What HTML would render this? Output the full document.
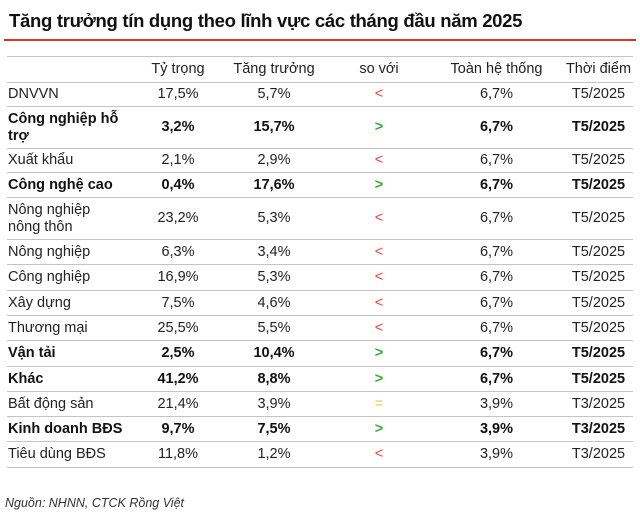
<!DOCTYPE html>
<html><head><meta charset="utf-8"><style>
body{margin:0;width:640px;height:517px;background:#fff;font-family:"Liberation Sans",sans-serif;color:#222;position:relative;overflow:hidden}
.title{position:absolute;left:9px;top:10px;font-size:18.5px;font-weight:bold;color:#111;letter-spacing:-0.3px}
.red{position:absolute;left:4px;top:39px;width:632px;height:2px;background:#e0332e}
table{position:absolute;left:7px;top:56px;width:626px;border-collapse:collapse;font-size:14.5px}
td{border-top:1.5px solid #c4c4c4;padding:0;text-align:center;line-height:17px}
tr:last-child td{border-bottom:1.5px solid #c4c4c4}
td.l{text-align:left;padding-left:1px}
tr.b td{font-weight:bold;color:#111}
td.g,tr.b td.g{color:#3aaa3a}td.r{color:#e8443a}td.y{color:#f2c23a}
.src{position:absolute;left:5px;top:496px;font-size:12.5px;font-style:italic;color:#333}
</style></head><body>
<div class="title">Tăng trưởng tín dụng theo lĩnh vực các tháng đầu năm 2025</div>
<div class="red"></div>
<table>
<colgroup><col style="width:130px"><col style="width:82px"><col style="width:110px"><col style="width:100px"><col style="width:135px"><col></colgroup>
<tr style="height:26px"><td></td><td>Tỷ trọng</td><td>Tăng trưởng</td><td>so với</td><td>Toàn hệ thống</td><td>Thời điểm</td></tr>
<tr style="height:24px"><td class="l">DNVVN</td><td>17,5%</td><td>5,7%</td><td class="r">&lt;</td><td>6,7%</td><td>T5/2025</td></tr>
<tr class="b" style="height:42px"><td class="l">Công nghiệp hỗ trợ</td><td>3,2%</td><td>15,7%</td><td class="g">&gt;</td><td>6,7%</td><td>T5/2025</td></tr>
<tr style="height:24px"><td class="l">Xuất khẩu</td><td>2,1%</td><td>2,9%</td><td class="r">&lt;</td><td>6,7%</td><td>T5/2025</td></tr>
<tr class="b" style="height:25px"><td class="l">Công nghệ cao</td><td>0,4%</td><td>17,6%</td><td class="g">&gt;</td><td>6,7%</td><td>T5/2025</td></tr>
<tr style="height:42px"><td class="l">Nông nghiệp<br>nông thôn</td><td>23,2%</td><td>5,3%</td><td class="r">&lt;</td><td>6,7%</td><td>T5/2025</td></tr>
<tr style="height:25px"><td class="l">Nông nghiệp</td><td>6,3%</td><td>3,4%</td><td class="r">&lt;</td><td>6,7%</td><td>T5/2025</td></tr>
<tr style="height:26px"><td class="l">Công nghiệp</td><td>16,9%</td><td>5,3%</td><td class="r">&lt;</td><td>6,7%</td><td>T5/2025</td></tr>
<tr style="height:25px"><td class="l">Xây dựng</td><td>7,5%</td><td>4,6%</td><td class="r">&lt;</td><td>6,7%</td><td>T5/2025</td></tr>
<tr style="height:25px"><td class="l">Thương mại</td><td>25,5%</td><td>5,5%</td><td class="r">&lt;</td><td>6,7%</td><td>T5/2025</td></tr>
<tr class="b" style="height:26px"><td class="l">Vận tải</td><td>2,5%</td><td>10,4%</td><td class="g">&gt;</td><td>6,7%</td><td>T5/2025</td></tr>
<tr class="b" style="height:25px"><td class="l">Khác</td><td>41,2%</td><td>8,8%</td><td class="g">&gt;</td><td>6,7%</td><td>T5/2025</td></tr>
<tr style="height:25px"><td class="l">Bất động sản</td><td>21,4%</td><td>3,9%</td><td class="y">=</td><td>3,9%</td><td>T3/2025</td></tr>
<tr class="b" style="height:25px"><td class="l">Kinh doanh BĐS</td><td>9,7%</td><td>7,5%</td><td class="g">&gt;</td><td>3,9%</td><td>T3/2025</td></tr>
<tr style="height:26px"><td class="l">Tiêu dùng BĐS</td><td>11,8%</td><td>1,2%</td><td class="r">&lt;</td><td>3,9%</td><td>T3/2025</td></tr>
</table>
<div class="src">Nguồn: NHNN, CTCK Rồng Việt</div>
</body></html>
